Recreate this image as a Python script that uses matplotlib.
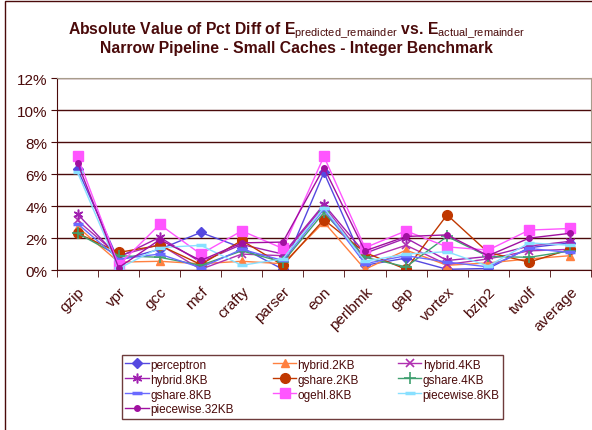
import numpy as np
import matplotlib
matplotlib.use("Agg")
import matplotlib.pyplot as plt
from matplotlib.patches import Rectangle

plt.rcParams['font.family'] = ['Liberation Sans', 'DejaVu Sans']
plt.rcParams['mathtext.fontset'] = 'custom'
plt.rcParams['mathtext.rm'] = 'Liberation Sans'
plt.rcParams['mathtext.bf'] = 'Liberation Sans:bold'

benchmarks = ["gzip", "vpr", "gcc", "mcf", "crafty", "parser", "eon",
              "perlbmk", "gap", "vortex", "bzip2", "twolf", "average"]

perceptron     = [6.3, 0.6, 1.3, 2.35, 1.4, 0.05, 6.1, 0.3, 0.75, 0.05, 0.1, 1.4, 1.7]
hybrid_2kb     = [2.7, 0.5, 0.55, 0.4, 0.55, 0.4, 3.0, 0.05, 1.25, 0.3, 0.45, 0.7, 0.9]
hybrid_4kb     = [3.1, 0.9, 1.6, 0.05, 1.0, 0.9, 4.0, 0.7, 1.55, 0.35, 0.7, 1.2, 1.3]
hybrid_8kb     = [3.5, 0.8, 2.05, 0.5, 1.6, 1.0, 4.1, 1.05, 2.0, 0.6, 0.85, 1.5, 1.8]
gshare_2kb     = [2.3, 1.1, 1.55, 0.35, 1.85, 0.3, 3.15, 1.1, 0.05, 3.45, 1.1, 0.5, 1.3]
gshare_4kb     = [2.3, 0.9, 0.8, 0.3, 1.2, 0.5, 3.6, 0.8, 0.2, 2.1, 0.85, 0.8, 1.2]
gshare_8kb     = [2.9, 0.7, 1.0, 0.15, 1.3, 0.6, 3.8, 0.4, 0.9, 0.5, 0.2, 1.35, 1.1]
ogehl_8kb      = [7.1, 0.3, 2.85, 1.0, 2.45, 1.35, 7.1, 1.4, 2.45, 1.45, 1.25, 2.5, 2.6]
piecewise_8kb  = [6.1, 0.1, 1.4, 1.55, 0.3, 0.7, 3.9, 0.55, 1.0, 1.15, 0.25, 1.7, 1.55]
piecewise_32kb = [6.7, 0.15, 1.9, 0.6, 1.7, 1.75, 6.4, 1.2, 2.1, 2.2, 0.9, 2.0, 2.3]

names = ["perceptron", "hybrid.2KB", "hybrid.4KB", "hybrid.8KB", "gshare.2KB",
         "gshare.4KB", "gshare.8KB", "ogehl.8KB", "piecewise.8KB", "piecewise.32KB"]
series = [perceptron, hybrid_2kb, hybrid_4kb, hybrid_8kb, gshare_2kb,
          gshare_4kb, gshare_8kb, ogehl_8kb, piecewise_8kb, piecewise_32kb]
styles = [
    dict(color="#5548E0", marker="D", ms=5),
    dict(color="#FF8040", marker="^", ms=6),
    dict(color="#B030B0", marker="x", ms=6, mew=1.2),
    dict(color="#A020B0", marker=(6, 2, 0), ms=7, mew=1.1),
    dict(color="#C03800", marker="o", ms=7),
    dict(color="#40A070", marker="+", ms=8, mew=1.2),
    dict(color="#6A6AFF", marker="_", ms=7, mew=2.5),
    dict(color="#FF55FF", marker="s", ms=7),
    dict(color="#88E0FF", marker="_", ms=7, mew=2.5),
    dict(color="#A010A0", marker="o", ms=4),
]

dark = "#4A0A0A"
fig = plt.figure(figsize=(5.92, 4.31), dpi=100)
ax = fig.add_axes([0.0963, 0.371, 0.9017, 0.4457])

x = np.arange(len(benchmarks))
handles = []
for name, vals, st in zip(names, series, styles):
    h, = ax.plot(x, vals, lw=1, label=name, **st)
    handles.append(h)

ax.set_xlim(-0.5, len(benchmarks) - 0.5)
ax.set_ylim(0, 12)
ax.set_yticks(np.arange(0, 13, 2))
ax.set_yticklabels([f"{v}%" for v in range(0, 13, 2)], fontsize=11, color=dark)
ax.set_xticks(x)
ax.set_xticklabels(benchmarks, rotation=45, ha="right", rotation_mode="anchor",
                   fontsize=11, color=dark)
ax.set_xticks(np.arange(-0.5, len(benchmarks)), minor=True)
ax.tick_params(axis="x", which="major", length=0, pad=10)
ax.tick_params(axis="x", which="minor", length=5, color=dark, direction="out")
ax.tick_params(axis="y", length=4, color=dark, direction="out", pad=3)
ax.yaxis.grid(True, color=dark, lw=1)
ax.set_axisbelow(True)
for side in ("left", "bottom"):
    ax.spines[side].set_color(dark)
for side in ("top", "right"):
    ax.spines[side].set_color("#A89C8C")

fig.text(0.5, 0.922,
         r"Absolute Value of Pct Diff of E$_{\mathrm{predicted\_remainder}}$ vs. E$_{\mathrm{actual\_remainder}}$",
         ha="center", fontsize=11.3, fontweight="bold", color=dark)
fig.text(0.5, 0.876, "Narrow Pipeline - Small Caches - Integer Benchmark",
         ha="center", fontsize=11.3, fontweight="bold", color=dark)

# legend filled row by row
order = [0, 3, 6, 9, 1, 4, 7, 2, 5, 8]
leg = fig.legend([handles[i] for i in order], [names[i] for i in order],
                 loc="lower left", bbox_to_anchor=(0.206, 0.0255, 0.644, 0.144),
                 mode="expand", ncol=3, fontsize=8.5, frameon=True, fancybox=False,
                 handlelength=2.0, handletextpad=0.1, borderpad=0.3,
                 labelspacing=0.25, columnspacing=1.0, borderaxespad=0)
leg.get_frame().set_edgecolor(dark)
leg.get_frame().set_linewidth(1)
for t in leg.get_texts():
    t.set_color(dark)

fig.add_artist(Rectangle((5 / 592, -0.1), 1.2, 1.1 - 2 / 431, transform=fig.transFigure,
                         fill=False, edgecolor=dark, lw=1))

fig.savefig("out.png", dpi=100)
